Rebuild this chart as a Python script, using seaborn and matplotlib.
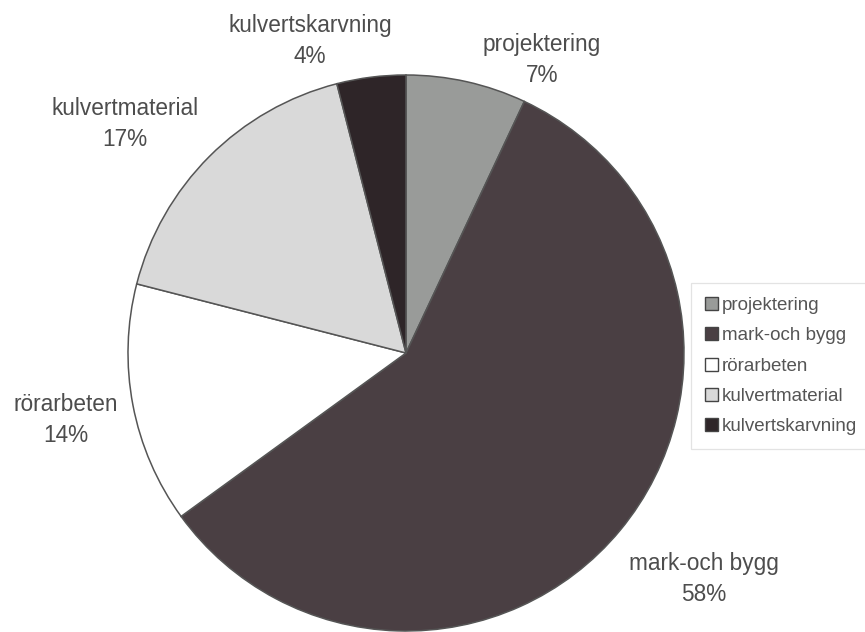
import matplotlib
matplotlib.use("Agg")
import matplotlib.pyplot as plt
import seaborn as sns

# Cost breakdown of a district-heating culvert project (percent of total)
categories = ["projektering", "mark-och bygg", "rörarbeten", "kulvertmaterial", "kulvertskarvning"]
shares = [7, 58, 14, 17, 4]
slice_colors = ["#999b99", "#4a3f43", "#ffffff", "#d9d9d9", "#2e2528"]

# Where each outside label sits (pie radius = 1)
label_xy = [(0.489, 1.054), (1.072, -0.813), (-1.223, -0.241), (-1.011, 0.824), (-0.345, 1.122)]

sns.set_theme(style="white")
plt.rcParams["font.family"] = ["Liberation Sans", "DejaVu Sans"]

W, H, DPI = 865, 632, 100
fig = plt.figure(figsize=(W / DPI, H / DPI), dpi=DPI)
fig.patch.set_facecolor("white")
ax = fig.add_axes([0, 0, 1, 1])

wedges, _ = ax.pie(
    shares,
    colors=slice_colors,
    startangle=90,
    counterclock=False,
    radius=1.0,
    wedgeprops=dict(edgecolor="#555555", linewidth=1.1),
)

total = sum(shares)
for name, val, (lx, ly) in zip(categories, shares, label_xy):
    ax.text(lx, ly, f"{name}\n{round(100 * val / total)}%", ha="center", va="center",
            fontsize=16.3, color="#4d4d4d", linespacing=1.4)

# Pie centre at (406, 353) px with a radius of 278 px
R, cx, cy = 278.0, 406.0, 353.0
ax.set_xlim(-cx / R, (W - cx) / R)
ax.set_ylim(-(H - cy) / R, cy / R)
ax.set_aspect("auto")
ax.axis("off")

leg = fig.legend(
    wedges, categories,
    loc="upper left", bbox_to_anchor=(691 / W, 1 - 283 / H),
    fontsize=13.5, frameon=True, fancybox=False,
    handlelength=0.7, handleheight=0.7, handletextpad=0.2,
    labelspacing=0.7, borderpad=0.75, borderaxespad=0,
)
leg.get_frame().set_edgecolor("#dcdcdc")
leg.get_frame().set_linewidth(0.9)
for t in leg.get_texts():
    t.set_color("#555555")
for h in leg.legend_handles:
    h.set_edgecolor("#444444")
    h.set_linewidth(1.0)

fig.savefig("out.png", dpi=DPI, facecolor="white")
